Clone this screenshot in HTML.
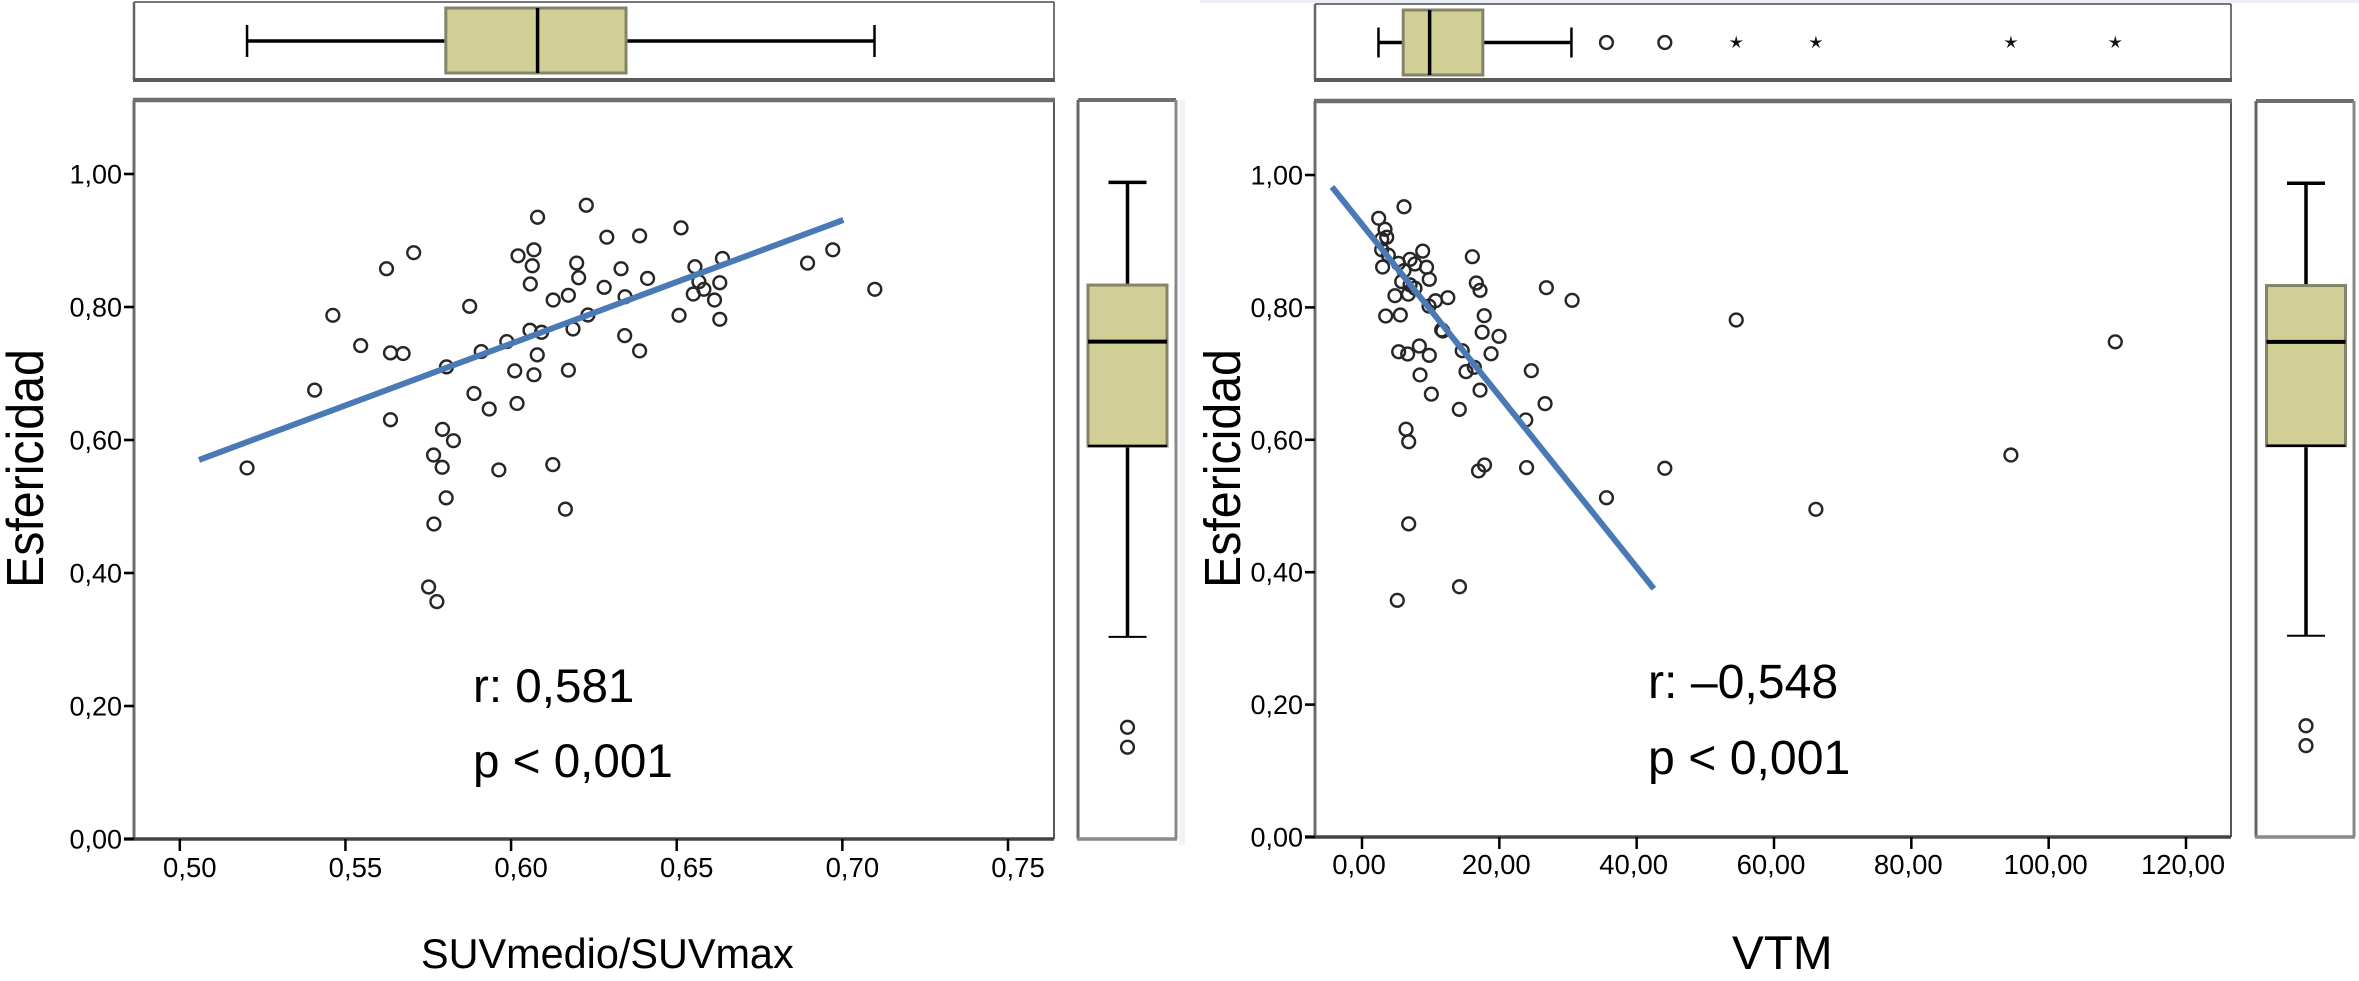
<!DOCTYPE html>
<html lang="es">
<head>
<meta charset="utf-8">
<title>Esfericidad scatter plots</title>
<style>
html,body{margin:0;padding:0;background:#fff;}
svg{display:block;font-family:"Liberation Sans",Arial,sans-serif;}
</style>
</head>
<body>
<svg id="figure" width="2359" height="981" viewBox="0 0 2359 981" xmlns="http://www.w3.org/2000/svg">
  <rect x="0" y="0" width="2359" height="981" fill="#fff"/>
  <rect x="1200" y="0" width="1159" height="3" fill="#e9edf4"/>
  <rect x="1179" y="100" width="6" height="745" fill="#f1f3f9"/>

  <g id="left-chart"></g>
  <g id="right-chart"></g>

  <text transform="translate(43,588) rotate(-90) scale(1,1.07)" font-size="48.3" fill="#000">Esfericidad</text>
  <text transform="translate(1240,588) rotate(-90) scale(1,1.05)" font-size="48.3" fill="#000">Esfericidad</text>
  <text x="421" y="968" font-size="41.4" fill="#000">SUVmedio/SUVmax</text>
  <text x="1732" y="969" font-size="47.7" fill="#000">VTM</text>
  <text x="473" y="702" font-size="47.6" fill="#000">r: 0,581</text>
  <text x="473" y="777" font-size="47.6" fill="#000">p &lt; 0,001</text>
  <text x="1648" y="698" font-size="48.2" fill="#000">r: –0,548</text>
  <text x="1648" y="774" font-size="48.2" fill="#000">p &lt; 0,001</text>
</svg>

<script>
/* ---------- shared data ---------- */
const yTickValues = [0, 0.2, 0.4, 0.6, 0.8, 1.0];
const yTickLabels = ['0,00', '0,20', '0,40', '0,60', '0,80', '1,00'];

/* ---------- left chart data ---------- */
const leftXTickValues = [0.50, 0.55, 0.60, 0.65, 0.70, 0.75];
const leftXTickLabels = ['0,50', '0,55', '0,60', '0,65', '0,70', '0,75'];
const leftSuvRatio = [
  .5407,.5462,.5546,.5624,.5706,.5636,.5674,.5636,.5805,.5875,.591,.5888,.5934,.5793,.5826,.5766,.5792,.5963,.5987,.6011,
  .6018,.6021,.6069,.6064,.6058,.608,.6057,.6092,.6079,.6069,.6127,.6173,.6173,.6187,.6232,.6198,.6204,.6227,.6289,.6281,
  .6332,.6344,.6343,.6388,.6388,.6412,.6513,.6507,.6555,.6567,.6582,.655,.6614,.663,.6638,.663,.6126,.6895,.6971,.7098,
  .5203,.5804,.6164,.5767,.5751,.5776
];
const leftSphericity = [
  .675,.7875,.742,.8576,.8817,.731,.730,.6305,.710,.801,.733,.670,.6466,.616,.599,.5774,.559,.555,.748,.704,
  .655,.877,.886,.862,.8346,.935,.765,.762,.728,.698,.8105,.8176,.705,.767,.788,.866,.844,.953,.905,.8296,
  .8576,.8155,.757,.907,.734,.843,.919,.7875,.8606,.838,.8266,.8195,.8105,.8365,.873,.7815,.563,.866,.886,.8266,
  .558,.513,.496,.4737,.379,.357
];
const leftFitX = [0.5058, 0.7003];
const leftFitY = [0.570, 0.931];
const leftTopBox = [0.5203, 0.5803, 0.608, 0.6347, 0.7097]; /* min, q1, median, q3, max */
const leftTopOutliers = [];
const leftTopExtremes = [];
const leftSideBox = [0.304, 0.591, 0.748, 0.833, 0.9875];
const leftSideOutliers = [0.168, 0.138];

/* ---------- right chart data ---------- */
const rightXTickValues = [0, 20, 40, 60, 80, 100, 120];
const rightXTickLabels = ['0,00', '20,00', '40,00', '60,00', '80,00', '100,00', '120,00'];
const rightVtm = [
  6.12,2.43,3.35,3.6,2.87,2.87,3.83,3.0,5.3,7.0,7.7,8.84,9.4,9.8,6.12,5.78,7.0,4.8,6.75,7.72,
  10.7,12.5,9.76,3.45,5.58,17.8,16.07,16.65,17.19,26.85,30.6,11.6,11.76,17.5,19.96,8.35,5.34,6.65,9.8,14.6,
  18.8,16.36,15.15,24.66,8.45,10.1,17.19,14.17,26.66,23.85,6.41,6.8,94.5,17.84,16.97,23.97,44.1,54.5,109.7,35.6,
  66.1,6.8,14.2,5.14
];
const rightSphericity = [
  .952,.9346,.918,.906,.903,.887,.879,.861,.8666,.8726,.8656,.885,.8606,.8424,.8555,.839,.834,.8177,.82,.829,
  .81,.8147,.802,.787,.7885,.7875,.8766,.8369,.8258,.8298,.8107,.766,.7644,.7625,.7563,.7417,.733,.7296,.7276,.7346,
  .73,.7095,.703,.7044,.698,.669,.675,.646,.6546,.63,.616,.597,.577,.562,.553,.558,.557,.781,.748,.5125,
  .495,.473,.378,.3575
];
const rightFitX = [-4.37, 42.5];
const rightFitY = [0.982, 0.375];
const rightTopBox = [2.4, 6.0, 9.85, 17.6, 30.5];
const rightTopOutliers = [35.6, 44.1];
const rightTopExtremes = [54.5, 66.1, 94.5, 109.7];
const rightSideBox = [0.304, 0.591, 0.748, 0.833, 0.9875];
const rightSideOutliers = [0.168, 0.138];

/* ---------- drawing ---------- */
const NS = 'http://www.w3.org/2000/svg';
const BOX_FILL = '#d2cf96', BOX_EDGE = '#85836a';

function make(parent, tag, attrs) {
  const el = document.createElementNS(NS, tag);
  for (const k in attrs) el.setAttribute(k, attrs[k]);
  parent.appendChild(el);
  return el;
}

function edge(g, x1, y1, x2, y2, color, w) {
  const l = make(g, 'line', {x1: x1, y1: y1, x2: x2, y2: y2, stroke: color, 'stroke-width': w});
  
  
}

function drawFrame(g, x0, y0, x1, y1, style) {
  if (style === 'top-box') {
    edge(g, x0, y0, x1, y0, '#777', 2);
    edge(g, x0, y0, x0, y1, '#666', 2.5);
    edge(g, x1, y0, x1, y1, '#444', 1.5);
    edge(g, x0 - 1, y1, x1 + 1, y1, '#5a5a5a', 4);
  } else if (style === 'side') {
    edge(g, x0, y0, x1, y0, '#6e6e6e', 4);
    edge(g, x0, y0, x0, y1, '#666', 3);
    edge(g, x1, y0, x1, y1, '#888', 3);
    edge(g, x0 - 1, y1, x1 + 1, y1, '#8a8a8a', 3.5);
  } else {
    edge(g, x0, y0, x0, y1, '#6c6c6c', 3);
    edge(g, x1, y0, x1, y1, '#222', 1.5);
    edge(g, x0 - 1, y0, x1 + 1, y0, '#6e6e6e', 4.5);
  }
}

function drawPoint(g, cx, cy) {
  const c = make(g, 'circle', {cx: cx, cy: cy, r: 6.4, fill: 'none', stroke: '#262626', 'stroke-width': 2.4});
  
  
}

function drawStar(g, cx, cy) {
  const pts = [];
  for (let i = 0; i < 10; i++) {
    const r = i % 2 ? 2.2 : 7;
    const a = -Math.PI / 2 + i * Math.PI / 5;
    pts.push((cx + r * Math.cos(a)).toFixed(1) + ',' + (cy + r * Math.sin(a)).toFixed(1));
  }
  const s = make(g, 'polygon', {points: pts.join(' '), fill: '#111'});
  
  
}

function line(g, x1, y1, x2, y2, w, name) {
  const l = make(g, 'line', {x1: x1, y1: y1, x2: x2, y2: y2, stroke: '#000', 'stroke-width': w});
  
  
}

function drawHBox(g, sx, stats, outliers, extremes, cy, top, bottom, capHalf) {
  line(g, sx(stats[0]), cy, sx(stats[4]), cy, 3.5, 'top-box-whisker');
  line(g, sx(stats[0]), cy - capHalf, sx(stats[0]), cy + capHalf, 2.5, 'top-box-cap-low');
  line(g, sx(stats[4]), cy - capHalf, sx(stats[4]), cy + capHalf, 2.5, 'top-box-cap-high');
  const b = make(g, 'rect', {x: sx(stats[1]), y: top, width: sx(stats[3]) - sx(stats[1]), height: bottom - top, fill: BOX_FILL, stroke: BOX_EDGE, 'stroke-width': 3});
  
  
  line(g, sx(stats[2]), top, sx(stats[2]), bottom, 3.5, 'top-box-median');
  outliers.forEach(v => drawPoint(g, sx(v), cy));
  extremes.forEach(v => drawStar(g, sx(v), cy));
}

function drawVBox(g, sy, stats, outliers, left, right, cx, capHalf) {
  line(g, cx, sy(stats[0]), cx, sy(stats[4]), 3.5, 'side-box-whisker');
  line(g, cx - capHalf, sy(stats[0]), cx + capHalf, sy(stats[0]), 2, 'side-box-cap-low');
  line(g, cx - capHalf, sy(stats[4]), cx + capHalf, sy(stats[4]), 3.5, 'side-box-cap-high');
  const b = make(g, 'rect', {x: left, y: sy(stats[3]), width: right - left, height: sy(stats[1]) - sy(stats[3]), fill: BOX_FILL, stroke: BOX_EDGE, 'stroke-width': 3});
  
  
  line(g, left, sy(stats[2]), right, sy(stats[2]), 4, 'side-box-median');
  line(g, left, sy(stats[1]), right, sy(stats[1]), 2.5, 'side-box-q1');
  outliers.forEach(v => drawPoint(g, cx, sy(v)));
}

function drawChart(g, o) {
  const sx = v => o.xA + (v - o.xV0) * (o.xB - o.xA) / (o.xV1 - o.xV0);
  const sy = v => o.y0 - v * (o.y0 - o.y1);

  /* top box panel */
  drawFrame(g, o.left, o.topY0, o.right, o.topY1, 'top-box');
  drawHBox(g, sx, o.topBox, o.topOut, o.topExt, o.topCy, o.topBoxY0, o.topBoxY1, o.topCap);

  /* side box panel */
  drawFrame(g, o.sideL, o.panelTop, o.sideR, o.y0, 'side');
  drawVBox(g, sy, o.sideBox, o.sideOut, o.sideBoxL, o.sideBoxR, o.sideCx, 19);

  /* scatter panel */
  drawFrame(g, o.left, o.panelTop, o.right, o.y0, 'scatter');
  const axis = make(g, 'line', {x1: o.left - 10, y1: o.y0, x2: o.right, y2: o.y0, stroke: '#444', 'stroke-width': 3.5});
  
  

  yTickValues.forEach((v, i) => {
    line(g, o.left - 10, sy(v), o.left, sy(v), 2.6, 'y-tick');
    const t = make(g, 'text', {x: o.left - 12, y: sy(v) + 9.5, 'text-anchor': 'end', 'font-size': 27, fill: '#000'});
    
    
    t.textContent = yTickLabels[i];
  });
  o.xTicks.forEach((v, i) => {
    line(g, sx(v), o.y0, sx(v), o.y0 + 12, 2.5, 'x-tick');
    const t = make(g, 'text', {x: sx(v) + o.xLabelDx, y: o.xLabelY, 'text-anchor': 'middle', 'font-size': 27.5, fill: '#000'});
    
    
    t.textContent = o.xLabels[i];
  });

  o.xs.forEach((v, i) => drawPoint(g, sx(v), sy(o.ys[i])));

  const fit = make(g, 'line', {x1: sx(o.fitX[0]), y1: sy(o.fitY[0]), x2: sx(o.fitX[1]), y2: sy(o.fitY[1]), stroke: '#4a7ab5', 'stroke-width': 6});
  
  
}

drawChart(document.getElementById('left-chart'), {
  left: 134, right: 1054, topY0: 2, topY1: 80, panelTop: 100, y0: 839, y1: 174,
  xA: 179.8, xB: 1008, xV0: 0.5, xV1: 0.75, xLabelDx: 10, xLabelY: 877,
  xTicks: leftXTickValues, xLabels: leftXTickLabels,
  xs: leftSuvRatio, ys: leftSphericity, fitX: leftFitX, fitY: leftFitY,
  topBox: leftTopBox, topOut: leftTopOutliers, topExt: leftTopExtremes,
  topCy: 41, topBoxY0: 8, topBoxY1: 73, topCap: 16,
  sideL: 1078, sideR: 1176, sideBoxL: 1088, sideBoxR: 1167, sideCx: 1127.5,
  sideBox: leftSideBox, sideOut: leftSideOutliers
});

drawChart(document.getElementById('right-chart'), {
  left: 1315, right: 2231, topY0: 4, topY1: 80, panelTop: 101, y0: 837, y1: 175,
  xA: 1362, xB: 2186, xV0: 0, xV1: 120, xLabelDx: -3, xLabelY: 874,
  xTicks: rightXTickValues, xLabels: rightXTickLabels,
  xs: rightVtm, ys: rightSphericity, fitX: rightFitX, fitY: rightFitY,
  topBox: rightTopBox, topOut: rightTopOutliers, topExt: rightTopExtremes,
  topCy: 42.5, topBoxY0: 10, topBoxY1: 75, topCap: 15,
  sideL: 2256, sideR: 2354, sideBoxL: 2266.5, sideBoxR: 2345.5, sideCx: 2306,
  sideBox: rightSideBox, sideOut: rightSideOutliers
});
</script>
</body>
</html>
